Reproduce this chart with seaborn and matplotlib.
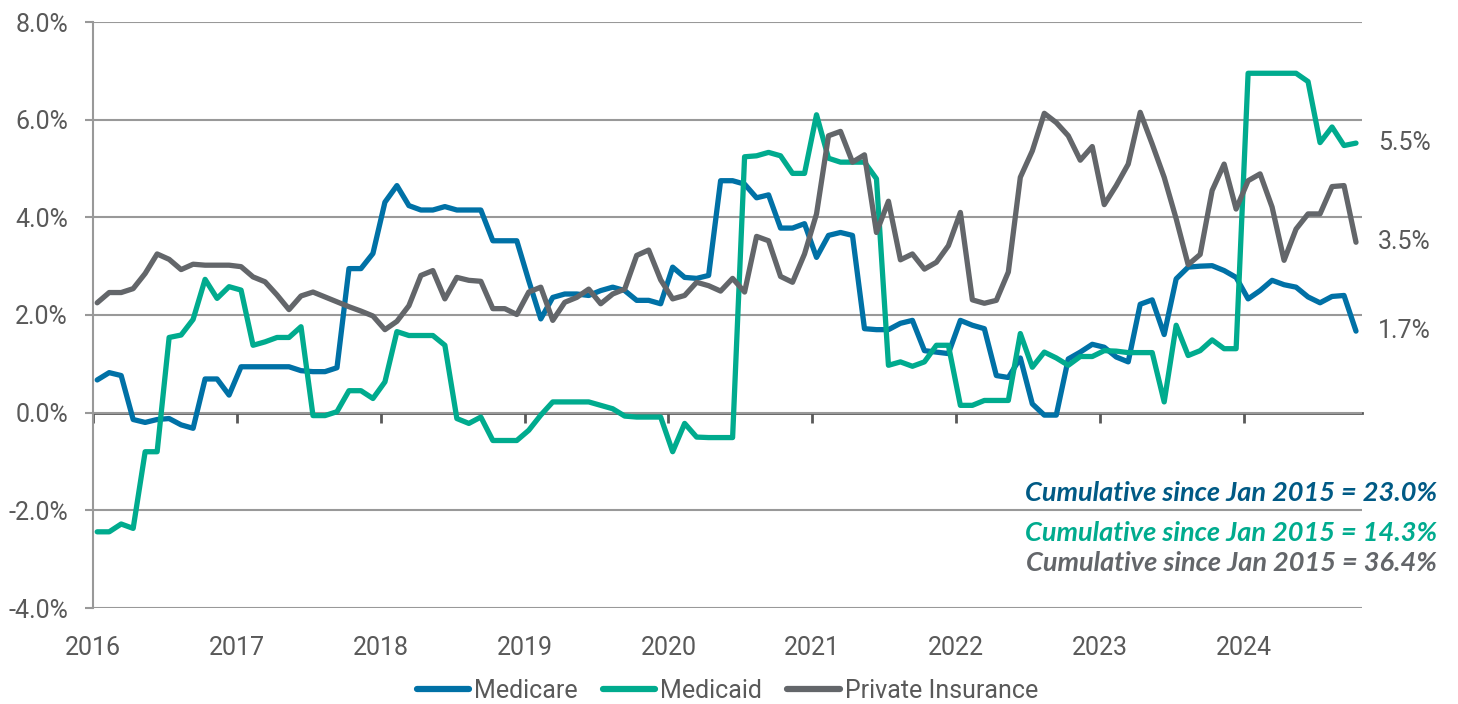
import numpy as np
import pandas as pd
import matplotlib.pyplot as plt
import seaborn as sns

# monthly series, Jan 2016 - Oct 2024 (% change)
medicare = [0.67, 0.82, 0.76, -0.14, -0.2, -0.14, -0.12, -0.25, -0.32, 0.69, 0.69, 0.36,
            0.94, 0.94, 0.94, 0.94, 0.94, 0.86, 0.84, 0.84, 0.92, 2.95, 2.95, 3.26,
            4.31, 4.65, 4.24, 4.15, 4.15, 4.22, 4.15, 4.15, 4.15, 3.52, 3.52, 3.52,
            2.7, 1.92, 2.36, 2.43, 2.43, 2.4, 2.5, 2.57, 2.5, 2.3, 2.3, 2.23,
            2.98, 2.77, 2.75, 2.81, 4.75, 4.75, 4.68, 4.4, 4.46, 3.78, 3.78, 3.87,
            3.18, 3.63, 3.69, 3.63, 1.72, 1.70, 1.70, 1.83, 1.89, 1.27, 1.24, 1.21,
            1.89, 1.79, 1.72, 0.76, 0.72, 1.12, 0.18, -0.05, -0.05, 1.1, 1.24, 1.4,
            1.34, 1.14, 1.04, 2.22, 2.31, 1.6, 2.74, 2.98, 3.0, 3.01, 2.91, 2.77,
            2.33, 2.5, 2.71, 2.62, 2.57, 2.37, 2.25, 2.38, 2.4, 1.67]
medicaid = [-2.44, -2.44, -2.28, -2.37, -0.8, -0.8, 1.54, 1.59, 1.91, 2.73, 2.34, 2.58,
            2.51, 1.38, 1.45, 1.54, 1.54, 1.76, -0.06, -0.06, 0.02, 0.45, 0.45, 0.29,
            0.63, 1.66, 1.58, 1.58, 1.58, 1.38, -0.12, -0.22, -0.09, -0.57, -0.57, -0.57,
            -0.36, -0.05, 0.22, 0.22, 0.22, 0.22, 0.15, 0.08, -0.07, -0.09, -0.09, -0.09,
            -0.8, -0.22, -0.5, -0.51, -0.51, -0.51, 5.24, 5.26, 5.33, 5.26, 4.9, 4.9,
            6.1, 5.21, 5.13, 5.13, 5.13, 4.79, 0.97, 1.04, 0.95, 1.04, 1.38, 1.38,
            0.15, 0.15, 0.25, 0.25, 0.25, 1.62, 0.93, 1.24, 1.12, 0.97, 1.15, 1.15,
            1.27, 1.26, 1.23, 1.23, 1.23, 0.22, 1.79, 1.17, 1.27, 1.49, 1.31, 1.31,
            6.95, 6.95, 6.95, 6.95, 6.95, 6.78, 5.53, 5.85, 5.47, 5.52]
private = [2.25, 2.46, 2.46, 2.54, 2.85, 3.25, 3.14, 2.93, 3.04, 3.02, 3.02, 3.02,
           2.99, 2.78, 2.68, 2.41, 2.11, 2.39, 2.47, 2.37, 2.27, 2.17, 2.08, 1.98,
           1.7, 1.87, 2.19, 2.81, 2.91, 2.33, 2.77, 2.71, 2.69, 2.13, 2.13, 2.01,
           2.47, 2.57, 1.89, 2.26, 2.36, 2.53, 2.23, 2.43, 2.53, 3.22, 3.33, 2.72,
           2.33, 2.4, 2.67, 2.6, 2.49, 2.75, 2.47, 3.61, 3.52, 2.79, 2.67, 3.25,
           4.07, 5.67, 5.76, 5.13, 5.28, 3.69, 4.33, 3.13, 3.25, 2.94, 3.08, 3.42,
           4.1, 2.31, 2.24, 2.3, 2.88, 4.82, 5.36, 6.13, 5.94, 5.67, 5.17, 5.45,
           4.26, 4.65, 5.09, 6.15, 5.5, 4.82, 3.97, 3.03, 3.24, 4.55, 5.09, 4.17,
           4.75, 4.89, 4.21, 3.12, 3.76, 4.07, 4.07, 4.63, 4.65, 3.49]

series_names = ['Medicare', 'Medicaid', 'Private Insurance']
colors = ['#0071A6', '#00AB8E', '#63666A']
cumulative = [23.0, 14.3, 36.4]
cum_colors = ['#005A85', '#00AB8E', '#63666A']
years = list(range(2016, 2025))

n = len(medicare)
df = pd.DataFrame({
    'month': np.tile(np.arange(n), 3),
    'value': medicare + medicaid + private,
    'series': np.repeat(series_names, n),
})

sns.set_theme(style='white')
plt.rcParams['font.family'] = ['Roboto', 'DejaVu Sans']
txt = '#595959'

fig = plt.figure(figsize=(14.58, 7.04), dpi=100)
ax = fig.add_axes([93/1458, 96/704, 1269/1458, 586/704])

sns.lineplot(data=df, x='month', y='value', hue='series', hue_order=series_names,
             palette=colors, linewidth=3.8, legend=False, ax=ax,
             solid_joinstyle='round', solid_capstyle='round')

ax.set_ylim(-4, 8)
ax.set_xlim(-0.35, 105.5)
ax.set_yticks(range(-4, 9, 2))
ax.set_yticklabels([f'{v:.1f}%' for v in range(-4, 9, 2)])
ticks = [12 * k - 0.35 for k in range(len(years))]
ax.set_xticks(ticks)
ax.set_xticklabels([str(y) for y in years])
ax.set_xlabel('')
ax.set_ylabel('')
ax.yaxis.grid(True, color='#999999', linewidth=1.5)
ax.xaxis.grid(False)
for s in ['top', 'right', 'bottom']:
    ax.spines[s].set_visible(False)
ax.spines['left'].set_color('#999999')
ax.spines['left'].set_linewidth(1.5)
ax.tick_params(axis='y', left=True, length=6, width=1.5, color='#999999',
               labelsize=18, labelcolor=txt, pad=12)
ax.tick_params(axis='x', bottom=False, labelsize=18, labelcolor=txt, pad=14)

# zero line with year ticks
sec = ax.secondary_xaxis(1/3)
sec.set_xticks(ticks)
sec.tick_params(axis='x', direction='out', length=7, width=2, color='#595959',
                labelbottom=False, labeltop=False)
for sp in sec.spines.values():
    sp.set_color('#595959')
    sp.set_linewidth(2)

# end labels
for vals in [medicaid, private, medicare]:
    ax.annotate(f'{vals[-1]:.1f}%', xy=(1.0125, vals[-1]), xycoords=('axes fraction', 'data'),
                va='center', ha='left', fontsize=18, color=txt)

# cumulative notes
for yy, c, col in zip([0.2997, 0.2429, 0.2003], cumulative, cum_colors):
    fig.text(0.9856, yy, f'Cumulative since Jan 2015 = {c:.1f}%', ha='right', va='center',
             fontsize=19.5, color=col, fontweight='bold', fontstyle='italic', family='Lato')

handles = [plt.Line2D([], [], color=c, linewidth=4.5, solid_capstyle='round') for c in colors]
fig.legend(handles, series_names, loc='center', bbox_to_anchor=(0.4989, 0.0185), ncol=3,
           frameon=False, fontsize=18, handlelength=2.1, handletextpad=0.2,
           columnspacing=1.0, labelcolor=txt)

fig.savefig('out.png', dpi=100)
